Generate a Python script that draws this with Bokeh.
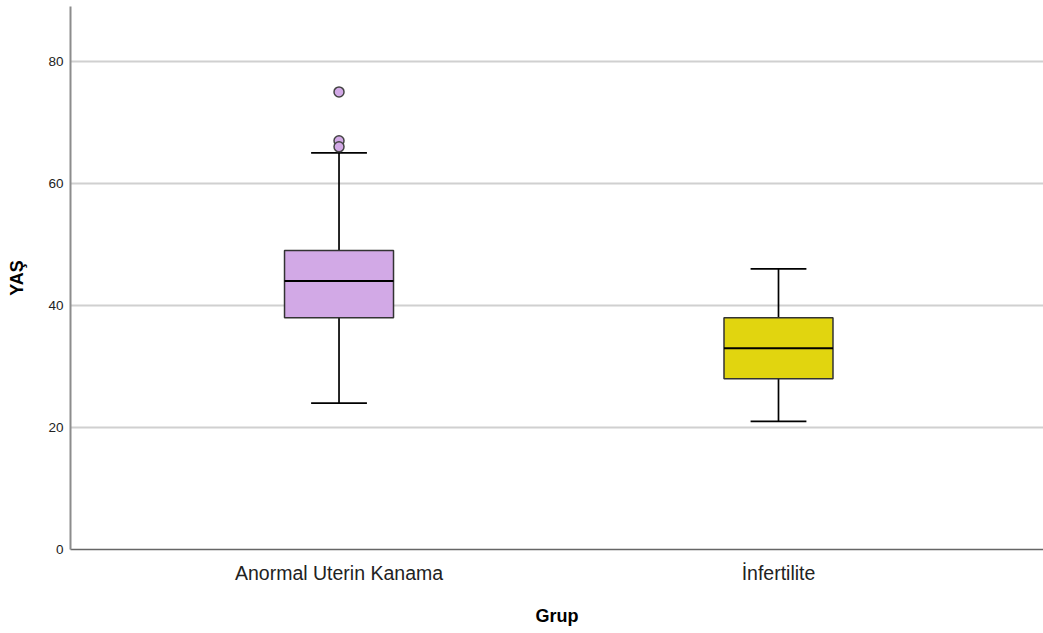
from bokeh.plotting import figure
from bokeh.models import FixedTicker, Range1d
from bokeh.embed import file_html
from bokeh.resources import INLINE

# ---- data ----
groups = ["Anormal Uterin Kanama", "İnfertilite"]
positions = [1, 2]
lower_whisker = [24, 21]
q1 = [38, 28]
median = [44, 33]
q3 = [49, 38]
upper_whisker = [65, 46]
box_colors = ["#D2A9E6", "#E1D50F"]
outlier_group = [1, 1, 1]
outlier_values = [75, 67, 66]
y_ticks = [0, 20, 40, 60, 80]

BOX_W = 0.248
CAP_W = 0.127

p = figure(width=1043, height=633, output_backend="svg", toolbar_location=None,
           x_range=Range1d(0.389, 2.603), y_range=Range1d(0, 89.0),
           min_border_left=70, min_border_right=0, min_border_top=6, min_border_bottom=84)
p.outline_line_color = None
p.background_fill_color = "white"

# whiskers
p.segment(x0=positions, y0=q3, x1=positions, y1=upper_whisker, line_color="black", line_width=1.7)
p.segment(x0=positions, y0=q1, x1=positions, y1=lower_whisker, line_color="black", line_width=1.7)
caps_left = [x - CAP_W / 2 for x in positions]
caps_right = [x + CAP_W / 2 for x in positions]
p.segment(x0=caps_left, y0=upper_whisker, x1=caps_right, y1=upper_whisker, line_color="black", line_width=1.7)
p.segment(x0=caps_left, y0=lower_whisker, x1=caps_right, y1=lower_whisker, line_color="black", line_width=1.7)

# boxes
p.vbar(x=positions, bottom=q1, top=q3, width=BOX_W, fill_color=box_colors,
       line_color="#333333", line_width=1.5)
med_left = [x - BOX_W / 2 for x in positions]
med_right = [x + BOX_W / 2 for x in positions]
p.segment(x0=med_left, y0=median, x1=med_right, y1=median, line_color="black", line_width=2)

# outliers
p.scatter(x=outlier_group, y=outlier_values, size=10, fill_color=box_colors[0],
          line_color="#444444", line_width=1.5)

# axes
p.xgrid.grid_line_color = None
p.ygrid.grid_line_color = "#D0D0D0"
p.ygrid.grid_line_width = 2
p.yaxis.ticker = FixedTicker(ticks=y_ticks)
p.xaxis.ticker = FixedTicker(ticks=positions)
p.xaxis.major_label_overrides = {pos: g for pos, g in zip(positions, groups)}

p.xaxis.axis_label = "Grup"
p.yaxis.axis_label = "YAŞ"
for ax in (p.xaxis, p.yaxis):
    ax.axis_label_text_font = "Liberation Sans"
    ax.axis_label_text_font_style = "bold"
    ax.axis_label_text_font_size = "18px"
    ax.axis_label_text_color = "black"
    ax.major_label_text_font = "Liberation Sans"
    ax.major_label_text_color = "#222222"
    ax.major_tick_line_color = None
    ax.minor_tick_line_color = None
    ax.major_tick_out = 0
    ax.major_tick_in = 0

p.xaxis.major_label_text_font_size = "19.5px"
p.xaxis.major_label_standoff = 12
p.xaxis.axis_label_standoff = 19
p.xaxis.axis_line_color = "#666666"
p.xaxis.axis_line_width = 1.5

p.yaxis.major_label_text_font_size = "13.5px"
p.yaxis.major_label_standoff = 7
p.yaxis.axis_label_standoff = 18
p.yaxis.axis_line_color = "#8C8C8C"
p.yaxis.axis_line_width = 2

open("out.html", "w").write(file_html(p, INLINE))
